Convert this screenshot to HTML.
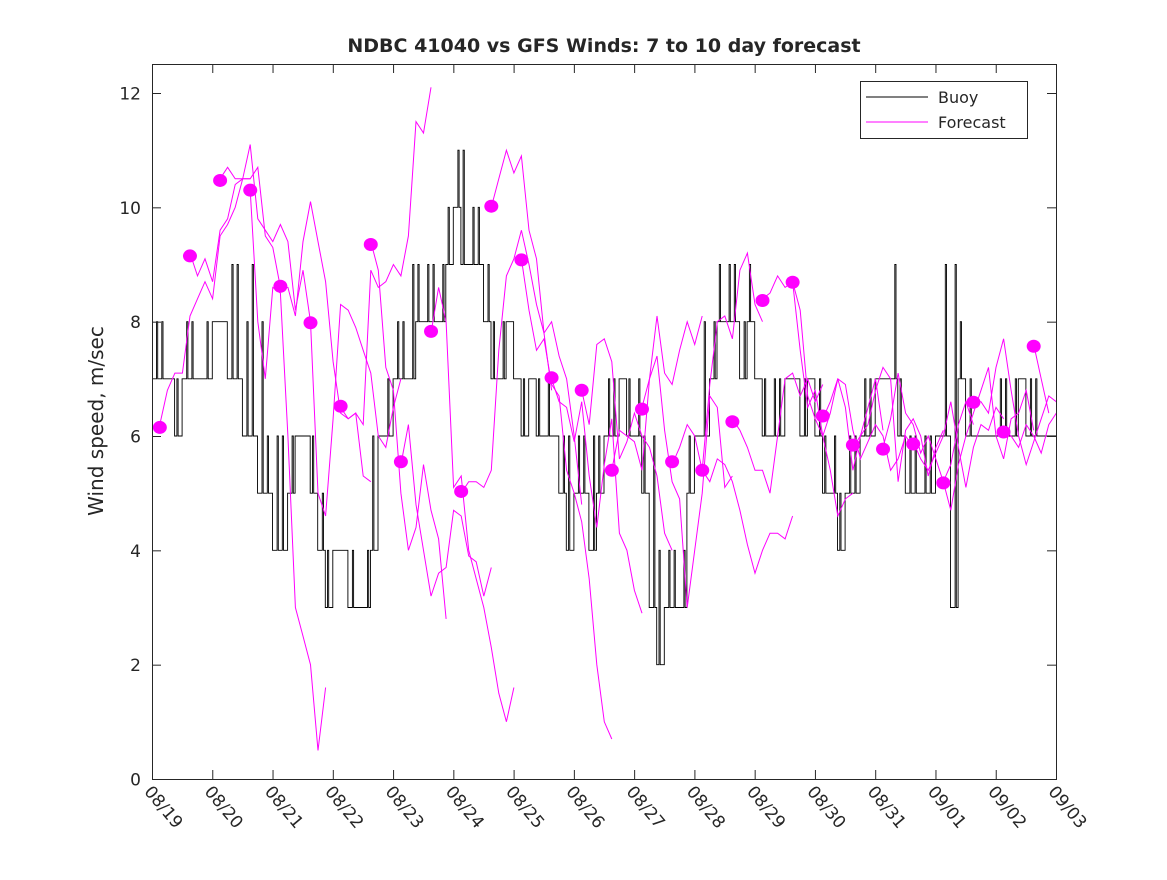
<!DOCTYPE html>
<html><head><meta charset="utf-8"><style>
body{margin:0;background:#fff}
svg text{font-family:"DejaVu Sans","Liberation Sans",sans-serif;fill:#262626}
</style></head><body>
<svg id="chart" width="1167" height="875" xmlns="http://www.w3.org/2000/svg">
<rect width="1167" height="875" fill="#fff"/>
<text x="604" y="52" text-anchor="middle" font-size="19" font-weight="bold" fill="#000">NDBC 41040 vs GFS Winds: 7 to 10 day forecast</text>
<text transform="translate(103,421) rotate(-90)" text-anchor="middle" font-size="20">Wind speed, m/sec</text>
<g id="plot"></g>
<g>
<rect x="860.5" y="81.5" width="167" height="57" fill="#fff" stroke="#262626" stroke-width="1"/>
<line x1="866" y1="97" x2="928" y2="97" stroke="#000"/>
<text x="938" y="103" font-size="16" fill="#000">Buoy</text>
<line x1="866" y1="122" x2="928" y2="122" stroke="#ff00ff"/>
<text x="938" y="128" font-size="16" fill="#000">Forecast</text>
</g>
</svg>
<script>
const xTickLabels=["08/19","08/20","08/21","08/22","08/23","08/24","08/25","08/26","08/27","08/28","08/29","08/30","08/31","09/01","09/02","09/03"];
const yTicks=[0,2,4,6,8,10,12];
const buoyLo=[7,7,7,6,7,7,7,7, 8,8,7,7,6,6,5,5, 4,4,5,6,6,5,4,3, 4,4,3,3,3,4,6,6, 7,7,7,8,8,8,8,9, 10,9,9,9,8,7,7,8, 7,6,7,6,6,6,5,4, 5,5,4,5,6,6,7,6, 6,5,3,2,3,3,3,5, 6,6,7,8,8,8,7,8, 7,6,6,6,7,7,6,7, 6,5,5,4,5,5,6,6, 7,7,7,6,5,5,5,5, 6,6,3,7,6,6,6,6, 6,6,6,7,6,6,6,6];
const buoyHi=[8,8,7,7,8,8,7,8, 8,8,9,9,8,9,8,6, 6,6,6,6,6,6,5,4, 4,4,4,3,4,6,6,7, 8,8,9,9,9,9,9,10, 11,11,10,10,9,8,8,8, 7,7,7,7,7,6,6,6, 6,6,6,6,7,7,7,7, 7,6,6,4,4,4,4,6, 6,8,8,9,9,9,8,9, 7,7,7,7,7,7,7,7, 7,6,6,5,6,6,7,7, 7,7,9,7,6,6,6,6, 6,9,9,8,7,6,6,6, 7,7,7,7,7,7,6,6];
const dotValues=[6.15,9.15,10.47,10.3,8.62,7.98,6.52,9.35,5.55,7.83,5.03,10.02,9.08,7.02,6.8,5.4,6.47,5.55,5.4,6.25,8.37,8.69,6.35,5.84,5.77,5.86,5.18,6.59,6.07,7.57];
const forecastRuns=[
[6.2,6.8,7.1,7.1,8.1,8.4,8.7,8.4,9.5,9.7,10.0,10.5,10.5],
[9.2,8.8,9.1,8.7,9.6,9.8,10.4,10.5,10.5,10.7,9.5,9.3,8.6],
[10.5,10.7,10.5,10.5,11.1,9.8,9.6,9.4,9.7,9.4,8.2,8.9,8.0],
[10.3,8.0,7.0,8.6,8.5,6.0,3.0,2.5,2.0,0.5,1.6],
[8.6,8.6,8.1,9.4,10.1,9.4,8.7,7.3,6.4,6.3,6.4,5.3,5.2],
[8.0,5.0,4.6,6.3,8.3,8.2,7.9,7.5,7.1,6.0,5.8,6.5,7.0],
[6.5,6.3,6.4,6.2,8.9,8.6,8.7,9.0,8.8,9.5,11.5,11.3,12.1],
[9.4,8.9,7.2,6.8,5.0,4.0,4.4,5.5,4.7,4.2,2.8],
[5.5,6.2,4.8,4.0,3.2,3.6,3.7,4.7,4.6,3.9,3.8,3.2,3.7],
[7.8,8.6,8.0,5.1,5.3,4.0,3.5,3.0,2.3,1.5,1.0,1.6],
[5.0,5.2,5.2,5.1,5.4,7.5,8.8,9.1,9.6,9.0,8.3,7.8,6.8],
[10.0,10.5,11.0,10.6,10.9,9.6,9.1,7.8,8.0,7.4,7.0,6.0,4.8],
[9.1,8.2,7.5,7.7,6.9,6.7,5.4,5.0,4.5,3.5,2.0,1.0,0.7],
[7.0,6.6,6.5,5.9,6.6,5.3,4.4,5.5,6.3,4.3,4.0,3.3,2.9],
[6.8,6.2,7.6,7.7,7.3,5.6,5.9,6.4,6.0,5.8,5.3,4.3,4.0],
[5.4,6.1,6.0,5.9,5.4,7.0,8.1,7.1,6.9,7.5,8.0,7.6,8.1],
[6.5,7.0,7.4,6.1,5.2,4.9,3.0,4.0,5.0,6.7,6.5,5.1,5.3],
[5.5,5.8,6.2,6.0,5.4,6.9,8.0,8.1,7.7,8.9,9.2,8.3,8.0],
[5.4,5.2,5.6,5.5,5.2,4.7,4.1,3.6,4.0,4.3,4.3,4.2,4.6],
[6.3,6.1,5.8,5.4,5.4,5.0,6.0,7.0,7.1,6.7,7.0,6.6,6.9],
[8.4,8.5,8.8,8.6,8.7,8.2,6.7,6.3,6.0,5.4,4.6,4.9,5.0],
[8.7,7.5,6.5,6.8,6.0,6.4,7.0,6.5,5.4,6.0,6.5,7.0,6.1],
[6.3,6.6,7.0,6.9,6.1,5.6,5.9,6.2,6.0,5.4,5.6,6.0,5.8],
[5.8,6.0,6.2,6.8,7.2,7.0,5.2,6.1,6.3,6.0,5.3,5.8,6.1],
[5.8,6.3,7.1,6.4,6.2,5.7,6.0,5.6,5.2,5.5,6.2,6.6,6.2],
[5.9,5.6,5.4,5.7,6.0,6.6,5.8,5.1,5.8,6.2,6.1,6.5,6.3],
[5.2,4.7,5.5,6.0,6.4,6.8,7.2,6.0,5.6,6.3,6.4,6.8,6.1],
[6.6,6.6,6.4,7.2,7.7,6.8,6.0,5.5,5.9,6.3,6.7,6.6,6.0],
[6.1,6.0,5.8,6.2,6.0,5.7,6.2,6.4,6.6,6.1,5.8,5.5,5.9],
[7.6,7.0,6.4]];

const L=152,R=1056,T=64,B=779;
const xs=d=>L+d*(R-L)/15;
const ys=v=>B-v*(B-93)/12;
const NS="http://www.w3.org/2000/svg";
const g=document.getElementById('plot');
function mk(t,a){const e=document.createElementNS(NS,t);for(const k in a)e.setAttribute(k,a[k]);g.appendChild(e);return e;}

// buoy
let d="";const step=0.125;
for(let i=0;i<buoyLo.length;i++){
  const x0=xs(i*step),x1=xs((i+1)*step),lo=ys(buoyLo[i]),hi=ys(buoyHi[i]);
  d+=(i===0?"M":"L")+x0.toFixed(1)+","+lo.toFixed(1);
  if(buoyHi[i]!==buoyLo[i]){
    const a=x0+(i%2?0.3:0.6)*(x1-x0),b=a+1.2;
    d+="L"+a.toFixed(1)+","+lo.toFixed(1)+"L"+a.toFixed(1)+","+hi.toFixed(1)+"L"+b.toFixed(1)+","+hi.toFixed(1)+"L"+b.toFixed(1)+","+lo.toFixed(1);
  }
  d+="L"+x1.toFixed(1)+","+lo.toFixed(1);
}
const bl=mk('path',{d:d,fill:"none",stroke:"#000","stroke-width":0.9});



// forecasts
const defs=document.createElementNS(NS,'defs');g.appendChild(defs);
const cp=document.createElementNS(NS,'clipPath');cp.setAttribute('id','cp');defs.appendChild(cp);
const cr=document.createElementNS(NS,'rect');cr.setAttribute('x',L);cr.setAttribute('y',T);cr.setAttribute('width',R-L);cr.setAttribute('height',B-T);cp.appendChild(cr);
forecastRuns.forEach((run,j)=>{
  const s=0.13+0.5*j;
  const pts=run.map((v,k)=>xs(s+k*0.125).toFixed(1)+","+ys(v).toFixed(1)).join(" ");
  const p=mk('polyline',{points:pts,fill:"none",stroke:"#ff00ff","stroke-width":1,"clip-path":"url(#cp)"});
  
  
});
dotValues.forEach((v,j)=>{
  const c=mk('ellipse',{cx:xs(0.13+0.5*j),cy:ys(v),rx:7,ry:6.5,fill:"#ff00ff"});
  
  
});

// axes box
const box=mk('rect',{x:L+0.5,y:T+0.5,width:R-L,height:B-T,fill:"none",stroke:"#262626","stroke-width":1});


yTicks.forEach(v=>{
  const y=ys(v)+0.5;
  mk('line',{x1:L,y1:y,x2:L+9,y2:y,stroke:"#262626"});
  mk('line',{x1:R-9,y1:y,x2:R,y2:y,stroke:"#262626"});
  const t=mk('text',{x:L-11,y:y+6,"text-anchor":"end","font-size":17});
  t.textContent=v;
  
  
});
xTickLabels.forEach((lab,i)=>{
  const x=xs(i)+0.5;
  mk('line',{x1:x,y1:B,x2:x,y2:B-9,stroke:"#262626"});
  mk('line',{x1:x,y1:T,x2:x,y2:T+9,stroke:"#262626"});
  const t=mk('text',{x:0,y:0,"font-size":17,transform:"translate("+(x-9)+","+(B+13)+") rotate(50)"});
  t.textContent=lab;
  
  
});
</script>
</body></html>
